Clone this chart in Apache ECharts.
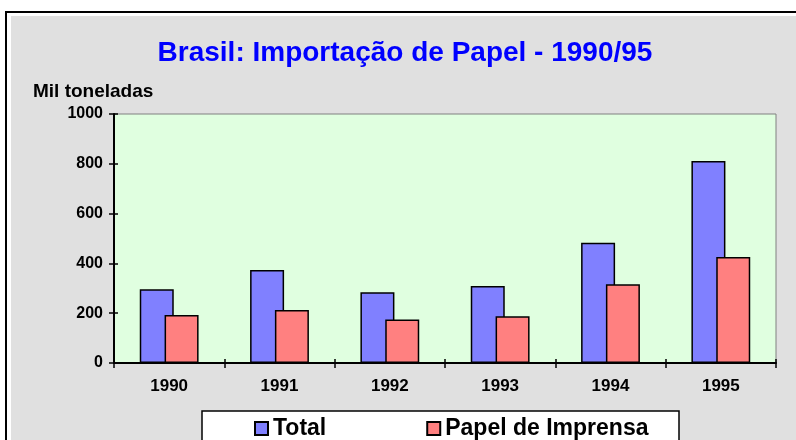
<!DOCTYPE html>
<html>
<head>
<meta charset="utf-8">
<script src="https://cdn.jsdelivr.net/npm/echarts@6/dist/echarts.min.js"></script>
<style>
  html, body { margin: 0; padding: 0; background: #fff; }
  #chart { width: 796px; height: 440px; }
</style>
</head>
<body>
<div id="chart"></div>
<script>
// dados
var anos = ['1990', '1991', '1992', '1993', '1994', '1995'];
var total = [296, 373, 284, 309, 483, 811];
var papelImprensa = [193, 213, 175, 188, 316, 426];
var yTicks = [0, 200, 400, 600, 800, 1000];

var mychart = echarts.init(document.getElementById('chart'));
var fonte = 'Arial, "Liberation Sans", sans-serif';

var option = {
    animation: false,
    title: {
        text: 'Brasil: Importação de Papel - 1990/95',
        left: 400,
        top: 34,
        textAlign: 'center',
        textStyle: { color: '#0000ff', fontSize: 28, fontWeight: 'bold', fontFamily: fonte }
    },
    graphic: [
        // moldura
        { type: 'rect', z: -100, shape: { x: 6, y: 12, width: 820, height: 460 },
          style: { fill: '#fff', stroke: '#000', lineWidth: 2 } },
        { type: 'rect', z: -99, shape: { x: 11, y: 16, width: 820, height: 460 },
          style: { fill: '#e0e0e0' } },
        // caixa da legenda
        { type: 'rect', z: -98, shape: { x: 202, y: 411, width: 477, height: 40 },
          style: { fill: '#fff', stroke: '#000', lineWidth: 1.5 } },
        { type: 'text', z: 10, x: 33, y: 92,
          style: { text: 'Mil toneladas', fill: '#000', font: 'bold 19px ' + fonte,
                   textAlign: 'left', textVerticalAlign: 'middle' } }
    ],
    legend: {
        left: 254,
        top: 417,
        padding: 0,
        itemGap: 100,
        itemWidth: 13,
        itemHeight: 13,
        icon: 'rect',
        textStyle: { color: '#000', fontSize: 23, fontWeight: 'bold', fontFamily: fonte },
        data: ['Total', 'Papel de Imprensa']
    },
    grid: {
        left: 114,
        right: 20,
        top: 114,
        bottom: 77,
        show: true,
        backgroundColor: '#e0ffe0',
        borderColor: '#808080',
        borderWidth: 1
    },
    xAxis: [
        {
            type: 'category',
            data: anos,
            position: 'bottom',
            axisLine: { lineStyle: { color: '#000', width: 2 } },
            axisTick: { show: true, length: 5, interval: 0, lineStyle: { color: '#000', width: 1.5 } },
            axisLabel: { color: '#000', fontSize: 17, fontWeight: 'bold', fontFamily: fonte, margin: 15 }
        },
        {
            type: 'category',
            data: anos,
            position: 'bottom',
            axisLine: { show: false },
            axisTick: { show: true, inside: true, length: 4, interval: 0, lineStyle: { color: '#000', width: 1.5 } },
            axisLabel: { show: false }
        }
    ],
    yAxis: [
        {
            type: 'value',
            min: yTicks[0],
            max: yTicks[yTicks.length - 1],
            interval: 200,
            axisLine: { show: true, lineStyle: { color: '#000', width: 2 } },
            axisTick: { show: true, length: 5, lineStyle: { color: '#000', width: 1.5 } },
            axisLabel: { color: '#000', fontSize: 16, fontWeight: 'bold', fontFamily: fonte, margin: 11,
                         formatter: function (v) { return String(v); } },
            splitLine: { show: false }
        },
        {
            type: 'value',
            position: 'left',
            min: yTicks[0],
            max: yTicks[yTicks.length - 1],
            interval: 200,
            axisLine: { show: false },
            axisTick: { show: true, inside: true, length: 4, lineStyle: { color: '#000', width: 1.5 } },
            axisLabel: { show: false },
            splitLine: { show: false }
        }
    ],
    series: [
        {
            name: 'Total',
            type: 'bar',
            data: total,
            barWidth: 34,
            barGap: '-27%',
            itemStyle: { color: '#8080ff', borderColor: '#000', borderWidth: 1.5 }
        },
        {
            name: 'Papel de Imprensa',
            type: 'bar',
            data: papelImprensa,
            barWidth: 34,
            barGap: '-27%',
            itemStyle: { color: '#ff8080', borderColor: '#000', borderWidth: 1.5 }
        }
    ]
};

mychart.setOption(option);
</script>
</body>
</html>
